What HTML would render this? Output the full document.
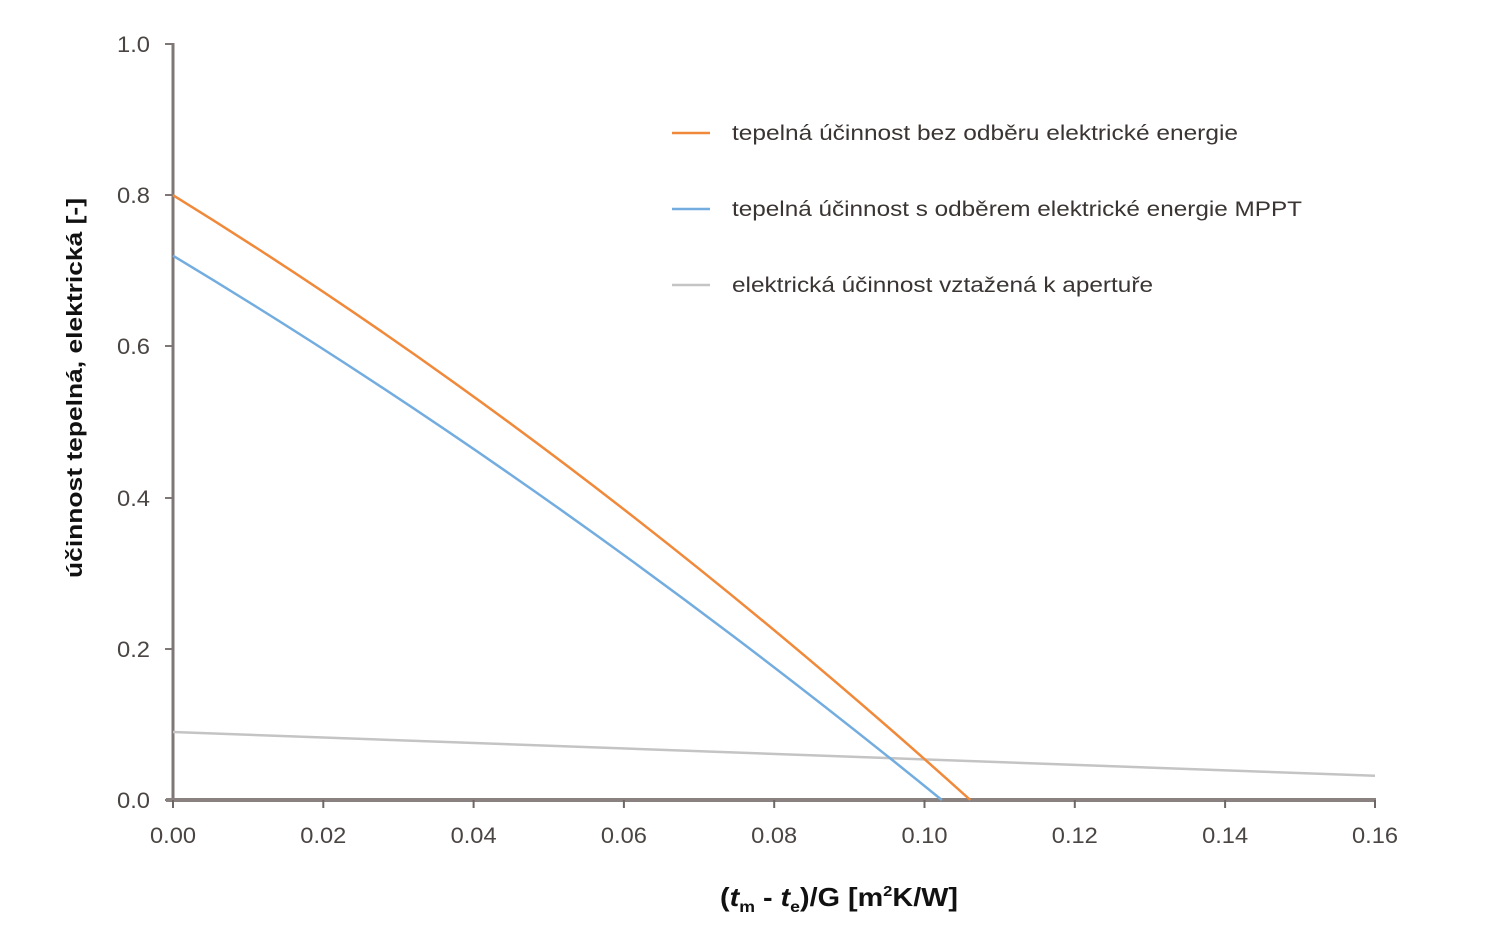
<!DOCTYPE html>
<html>
<head>
<meta charset="utf-8">
<style>
html,body{margin:0;padding:0;background:#fff;}
svg{display:block;}
text{font-family:"Liberation Sans","DejaVu Sans",sans-serif;}
</style>
</head>
<body>
<svg width="1493" height="939" viewBox="0 0 1493 939" xmlns="http://www.w3.org/2000/svg">
<rect width="1493" height="939" fill="#fff"/>

<!-- y axis -->
<line x1="173" y1="43" x2="173" y2="801" stroke="#7f7775" stroke-width="3"/>
<g stroke="#7f7775" stroke-width="2">
<line x1="165" y1="44" x2="173" y2="44"/>
<line x1="165" y1="195" x2="173" y2="195"/>
<line x1="165" y1="346" x2="173" y2="346"/>
<line x1="165" y1="498" x2="173" y2="498"/>
<line x1="165" y1="649" x2="173" y2="649"/>
<line x1="165" y1="800" x2="173" y2="800"/>
</g>
<!-- x axis -->
<line x1="166" y1="800" x2="1376" y2="800" stroke="#8a8280" stroke-width="4"/>
<g stroke="#6f6765" stroke-width="2">
<line x1="173" y1="800" x2="173" y2="808"/>
<line x1="323.3" y1="800" x2="323.3" y2="808"/>
<line x1="473.6" y1="800" x2="473.6" y2="808"/>
<line x1="623.9" y1="800" x2="623.9" y2="808"/>
<line x1="774.2" y1="800" x2="774.2" y2="808"/>
<line x1="924.5" y1="800" x2="924.5" y2="808"/>
<line x1="1074.8" y1="800" x2="1074.8" y2="808"/>
<line x1="1225.1" y1="800" x2="1225.1" y2="808"/>
<line x1="1375" y1="800" x2="1375" y2="808"/>
</g>

<!-- y tick labels -->
<g fill="#4a4543" font-size="22" text-anchor="end">
<text x="150" y="52" textLength="33" lengthAdjust="spacingAndGlyphs">1.0</text>
<text x="150" y="203" textLength="33" lengthAdjust="spacingAndGlyphs">0.8</text>
<text x="150" y="354" textLength="33" lengthAdjust="spacingAndGlyphs">0.6</text>
<text x="150" y="506" textLength="33" lengthAdjust="spacingAndGlyphs">0.4</text>
<text x="150" y="657" textLength="33" lengthAdjust="spacingAndGlyphs">0.2</text>
<text x="150" y="808" textLength="33" lengthAdjust="spacingAndGlyphs">0.0</text>
</g>
<!-- x tick labels -->
<g fill="#4a4543" font-size="22" text-anchor="middle">
<text x="173" y="843" textLength="46" lengthAdjust="spacingAndGlyphs">0.00</text>
<text x="323.3" y="843" textLength="46" lengthAdjust="spacingAndGlyphs">0.02</text>
<text x="473.6" y="843" textLength="46" lengthAdjust="spacingAndGlyphs">0.04</text>
<text x="623.9" y="843" textLength="46" lengthAdjust="spacingAndGlyphs">0.06</text>
<text x="774.2" y="843" textLength="46" lengthAdjust="spacingAndGlyphs">0.08</text>
<text x="924.5" y="843" textLength="46" lengthAdjust="spacingAndGlyphs">0.10</text>
<text x="1074.8" y="843" textLength="46" lengthAdjust="spacingAndGlyphs">0.12</text>
<text x="1225.1" y="843" textLength="46" lengthAdjust="spacingAndGlyphs">0.14</text>
<text x="1375" y="843" textLength="46" lengthAdjust="spacingAndGlyphs">0.16</text>
</g>

<!-- axis titles -->
<text transform="translate(82,388) rotate(-90)" text-anchor="middle" font-size="22" font-weight="bold" fill="#111" textLength="380" lengthAdjust="spacingAndGlyphs">účinnost tepelná, elektrická [-]</text>
<text x="720" y="906" font-size="26" font-weight="bold" fill="#111" textLength="238" lengthAdjust="spacingAndGlyphs">(<tspan font-style="italic">t</tspan><tspan font-size="16" dy="6">m</tspan><tspan dy="-6"> - </tspan><tspan font-style="italic">t</tspan><tspan font-size="16" dy="6">e</tspan><tspan dy="-6">)/G [m</tspan><tspan font-size="15" dy="-10">2</tspan><tspan dy="10">K/W]</tspan></text>

<!-- series -->
<line x1="173" y1="732" x2="1375" y2="775.8" stroke="#c4c4c4" stroke-width="2.5"/>
<path d="M173,195.2 Q571.7,441 970.3,800" fill="none" stroke="#f0893a" stroke-width="2.5"/>
<path d="M173,255.7 Q557.4,486.9 941.8,800" fill="none" stroke="#73ade0" stroke-width="2.5"/>

<!-- legend -->
<line x1="672" y1="133" x2="710" y2="133" stroke="#f0893a" stroke-width="2.5"/>
<line x1="672" y1="209" x2="710" y2="209" stroke="#73ade0" stroke-width="2.5"/>
<line x1="672" y1="285" x2="710" y2="285" stroke="#c4c4c4" stroke-width="2.5"/>
<g fill="#3a3533" font-size="21">
<text x="732" y="140" textLength="506" lengthAdjust="spacingAndGlyphs">tepelná účinnost bez odběru elektrické energie</text>
<text x="732" y="216" textLength="570" lengthAdjust="spacingAndGlyphs">tepelná účinnost s odběrem elektrické energie MPPT</text>
<text x="732" y="292" textLength="421" lengthAdjust="spacingAndGlyphs">elektrická účinnost vztažená k apertuře</text>
</g>
</svg>
</body>
</html>
